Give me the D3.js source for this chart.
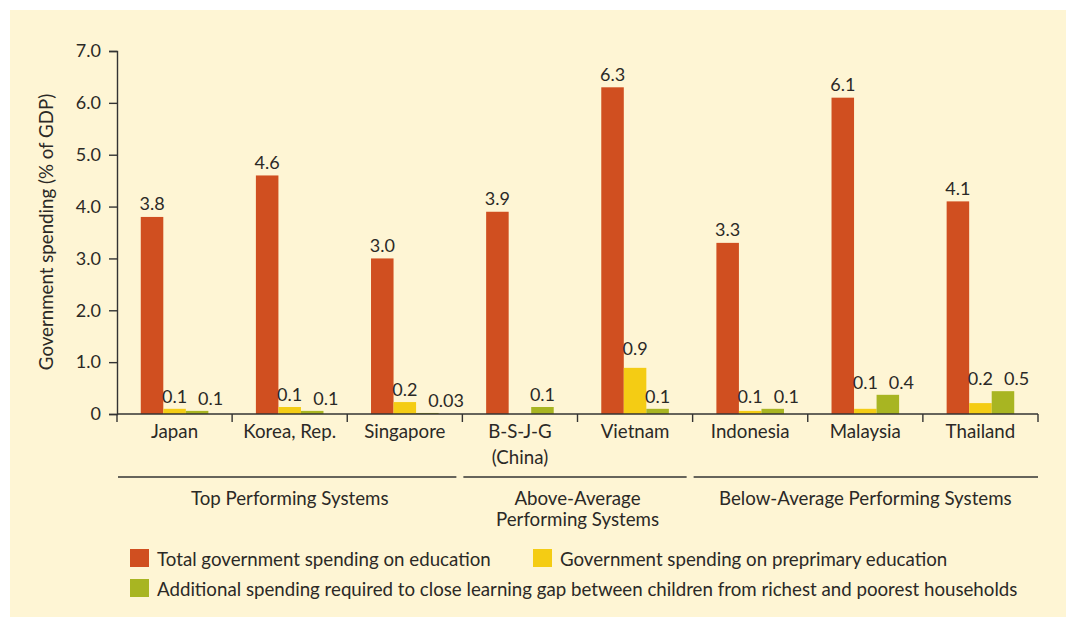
<!DOCTYPE html>
<html>
<head>
<meta charset="utf-8">
<script src="https://cdn.jsdelivr.net/npm/d3@7/dist/d3.min.js"></script>
<style>
  html, body { margin: 0; padding: 0; background: #fff; }
  svg { display: block; }
  text { font-family: Lato, "Open Sans", sans-serif; fill: #2b2926; }
</style>
</head>
<body>
<script>
const countries = ['Japan', 'Korea, Rep.', 'Singapore', 'B-S-J-G\n(China)', 'Vietnam', 'Indonesia', 'Malaysia', 'Thailand'];
const totalSpend = [3.8, 4.6, 3.0, 3.9, 6.3, 3.3, 6.1, 4.1];
const preprimary = [0.10, 0.135, 0.23, null, 0.89, 0.06, 0.10, 0.21];
const additional = [0.06, 0.06, 0.02, 0.135, 0.10, 0.10, 0.37, 0.44];
const totalLabels = ['3.8', '4.6', '3.0', '3.9', '6.3', '3.3', '6.1', '4.1'];
const preLabels = ['0.1', '0.1', '0.2', '', '0.9', '0.1', '0.1', '0.2'];
const addLabels = ['0.1', '0.1', '0.03', '0.1', '0.1', '0.1', '0.4', '0.5'];
const groups = [
  { name: ['Top Performing Systems'], from: 0, to: 2 },
  { name: ['Above-Average', 'Performing Systems'], from: 3, to: 4 },
  { name: ['Below-Average Performing Systems'], from: 5, to: 7 }
];
const seriesNames = [
  'Total government spending on education',
  'Government spending on preprimary education',
  'Additional spending required to close learning gap between children from richest and poorest households'
];
const colors = ['#d04f20', '#f4cc14', '#a8b522'];
const yTicks = [0, 1, 2, 3, 4, 5, 6, 7];

const w = 1066, h = 617;
const x0 = 117, x1 = 1038, yBase = 414, yTop = 51;
const textSize = 18.7, numSize = 18;

const svg = d3.select('body').append('svg').attr('width', w).attr('height', h);
svg.append('rect').attr('x', 10).attr('y', 10).attr('width', w - 10).attr('height', h - 10).attr('fill', '#fef5d4');

const x = d3.scaleBand().domain(d3.range(countries.length)).range([x0, x1]).paddingInner(0).paddingOuter(0);
const inner = d3.scaleBand().domain([0, 1, 2]).range([0, x.bandwidth()]).paddingOuter(1.055).paddingInner(0);
const y = d3.scaleLinear().domain([0, 7]).range([yBase, yTop]);

const series = [totalSpend, preprimary, additional];

// bars
series.forEach((vals, s) => {
  svg.append('g').selectAll('rect')
    .data(vals.map((v, i) => ({ v, i })).filter(d => d.v != null))
    .enter()
    .append('rect')
    .attr('x', d => x(d.i) + inner(s))
    .attr('width', inner.bandwidth())
    .attr('y', d => y(d.v))
    .attr('height', d => yBase - y(d.v))
    .attr('fill', colors[s]);
});

// y axis
const yAxis = svg.append('g')
  .attr('transform', `translate(${x0},0)`)
  .call(d3.axisLeft(y).tickValues(yTicks).tickSize(8).tickPadding(8)
    .tickFormat(d => d === 0 ? '0' : d3.format('.1f')(d)));
yAxis.select('.domain').attr('stroke', '#333').attr('stroke-width', 1.4);
yAxis.selectAll('.tick line').attr('stroke', '#333').attr('stroke-width', 1.4);
yAxis.selectAll('.tick text').attr('font-size', numSize).attr('font-family', 'Lato, sans-serif').attr('fill', '#2b2926');

// x axis
const xAxisG = svg.append('g').attr('transform', `translate(0,${yBase})`);
xAxisG.append('line').attr('x1', x0).attr('x2', x1).attr('stroke', '#333').attr('stroke-width', 1.4);
xAxisG.selectAll('.bt')
  .data(d3.range(countries.length + 1))
  .enter()
  .append('line')
  .attr('x1', i => i < countries.length ? x(i) : x1)
  .attr('x2', i => i < countries.length ? x(i) : x1)
  .attr('y1', 0).attr('y2', 8)
  .attr('stroke', '#333').attr('stroke-width', 1.4);

const catText = svg.append('g').selectAll('text')
  .data(countries)
  .enter()
  .append('text')
  .attr('x', (d, i) => x(i) + x.bandwidth() / 2)
  .attr('y', 438)
  .attr('text-anchor', 'middle')
  .attr('font-size', textSize);
catText.each(function(d) {
  const lines = d.split('\n');
  d3.select(this).selectAll('tspan').data(lines).enter().append('tspan')
    .attr('x', d3.select(this).attr('x'))
    .attr('dy', (l, j) => j === 0 ? 0 : 26)
    .text(l => l);
});

// y title
svg.append('text')
  .attr('transform', 'translate(53,232) rotate(-90)')
  .attr('text-anchor', 'middle')
  .attr('font-size', textSize)
  .text('Government spending (% of GDP)');

// group lines and labels
groups.forEach((g, k) => {
  const gx0 = x(g.from) + 1;
  const gx1 = k === groups.length - 1 ? x1 : x(g.to) + x.bandwidth() - 6;
  svg.append('line').attr('x1', gx0).attr('x2', gx1).attr('y1', 477).attr('y2', 477)
    .attr('stroke', '#333').attr('stroke-width', 1.3);
  const t = svg.append('text')
    .attr('x', (x(g.from) + x(g.to) + x.bandwidth()) / 2)
    .attr('y', 505)
    .attr('text-anchor', 'middle')
    .attr('font-size', textSize);
  t.selectAll('tspan').data(g.name).enter().append('tspan')
    .attr('x', (x(g.from) + x(g.to) + x.bandwidth()) / 2)
    .attr('dy', (l, j) => j === 0 ? 0 : 21)
    .text(l => l);
});

// value labels
const labelG = svg.append('g').attr('font-size', numSize);
countries.forEach((c, i) => {
  const cx = s => x(i) + inner(s) + inner.bandwidth() / 2;
  labelG.append('text')
    .attr('x', cx(0)).attr('y', y(totalSpend[i]) - 6.5)
    .attr('text-anchor', 'middle').text(totalLabels[i]);
  let preY = null;
  if (preprimary[i] != null && preLabels[i]) {
    preY = Math.min(y(preprimary[i]), y(additional[i])) - 6;
    if (preprimary[i] > 0.5) preY = y(preprimary[i]) - 13;
    labelG.append('text')
      .attr('x', cx(1)).attr('y', preY)
      .attr('text-anchor', 'middle').text(preLabels[i]);
  }
  const addY = y(additional[i]) - 6;
  const crowded = preY != null && Math.abs(preY - addY) < 18;
  labelG.append('text')
    .attr('x', crowded ? cx(2) + 1 : cx(2))
    .attr('y', addY)
    .attr('text-anchor', crowded ? 'start' : 'middle')
    .text(addLabels[i]);
});

// legend
const legendPos = [
  { x: 130, y: 549 },
  { x: 533, y: 549 },
  { x: 130, y: 579 }
];
const legend = svg.append('g').selectAll('g')
  .data(seriesNames)
  .enter()
  .append('g')
  .attr('transform', (d, i) => `translate(${legendPos[i].x},${legendPos[i].y})`);
legend.append('rect').attr('width', 19).attr('height', 18).attr('fill', (d, i) => colors[i]);
legend.append('text').attr('x', 27).attr('y', 17).attr('font-size', textSize).text(d => d);
</script>
</body>
</html>
